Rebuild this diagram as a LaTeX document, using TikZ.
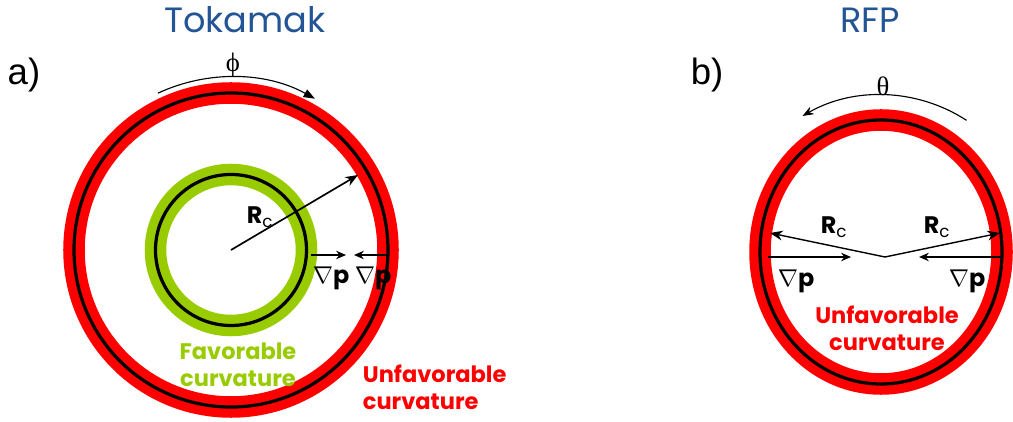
\documentclass[tikz,border=0pt]{standalone}
\usepackage{fontspec}
\setmainfont{Poppins}
\newfontfamily\arialfont{Liberation Sans}
\newfontfamily\timesfont{Liberation Serif}
\usetikzlibrary{arrows.meta}

\definecolor{titleblue}{RGB}{35,85,150}
\definecolor{favgreen}{RGB}{153,204,0}
\definecolor{unfavred}{RGB}{255,0,0}

\newcommand{\radc}{\textbf{R}\textsubscript{c}}
\newcommand{\gradp}{$\nabla$\textbf{p}}

\begin{document}
\begin{tikzpicture}[x=0.025cm,y=0.025cm,
  ring/.style={line width=15.3pt},
  wall/.style={black, line width=2.3pt},
  titletext/.style={titleblue, font=\fontsize{25}{30}\selectfont},
  panel/.style={font=\arialfont\fontsize{26}{30}\selectfont},
  angletext/.style={font=\timesfont\fontsize{19}{22}\selectfont},
  curvtext/.style={font=\fontsize{16}{19}\selectfont\bfseries, align=center},
  vectext/.style={font=\fontsize{17}{20}\selectfont, inner sep=0pt},
  anglearrow/.style={line width=0.8pt, -{Triangle[length=8pt,width=6pt]}},
  rcarrow/.style={line width=1.2pt, -{Stealth[length=9pt,width=7pt]}},
  gparrow/.style={line width=1.1pt, -{Stealth[length=7pt,width=6pt]}}]
\useasboundingbox (0,0) rectangle (1013,421);

% Titles
\node[titletext] (toktitle) at (245,401) {Tokamak};
\node[titletext] (rfptitle) at (870,401) {RFP};
\node[panel] (pa) at (24,346) {a)};
\node[panel] (pb) at (707,346) {b)};

% Tokamak cross section
\coordinate (tokc) at (231,171);
\draw[ring, unfavred] (tokc) circle[radius=157];
\draw[wall] (tokc) circle[radius=157];
\draw[ring, favgreen] (tokc) circle[radius=75.5];
\draw[wall] (tokc) circle[radius=75.5];

% toroidal angle
\draw[anglearrow] ([shift={(115:173)}]tokc) arc[start angle=115, end angle=61, radius=173];
\node[angletext] (phi) at (233,356) {ϕ};

% curvature radius and pressure gradient
\coordinate (tokrc) at (358,246);
\draw[rcarrow] (tokc) -- (tokrc);
\node[vectext] (tokrclab) at (260,204) {\radc};
\coordinate (gpa) at (311,166);
\coordinate (gpb) at (346,166);
\coordinate (gpc) at (388,166);
\coordinate (gpd) at (354,166);
\draw[gparrow] (gpa) -- (gpb);
\draw[gparrow] (gpc) -- (gpd);
\node[vectext] (gplaba) at (331,143) {\gradp};
\node[vectext] (gplabb) at (373,143) {\gradp};

\node[curvtext, favgreen] (favlab) at (238,56) {Favorable\\curvature};
\node[curvtext, unfavred, align=left, anchor=west] (unflab) at (358,34) {Unfavorable\\curvature};

% RFP cross section
\coordinate (rfpc) at (881,169);
\draw[ring, unfavred] (rfpc) ellipse[x radius=121, y radius=132];
\draw[wall] (rfpc) ellipse[x radius=121, y radius=132];

% poloidal angle
\draw[line width=0.8pt, -{Stealth[length=8pt,width=6pt]}] ([shift={(57:157)}]rfpc) arc[start angle=57, end angle=120, radius=157];
\node[angletext] (theta) at (883,335) {θ};

% curvature radii and pressure gradients
\coordinate (rfpv) at (885,164);
\coordinate (rfpl) at (770,188);
\coordinate (rfpr) at (1000,188);
\draw[rcarrow, line width=1pt] (rfpv) -- (rfpl);
\draw[rcarrow, line width=1pt] (rfpv) -- (rfpr);
\node[vectext] (rfprcl) at (834,194) {\radc};
\node[vectext] (rfprcr) at (937,194) {\radc};
\coordinate (rfpgl) at (768,164);
\coordinate (rfpgla) at (851,164);
\coordinate (rfpgr) at (1001,164);
\coordinate (rfpgra) at (919,164);
\draw[gparrow] (rfpgl) -- (rfpgla);
\draw[gparrow] (rfpgr) -- (rfpgra);
\node[vectext] (rfpgpl) at (796,140) {\gradp};
\node[vectext] (rfpgpr) at (967,140) {\gradp};

\node[curvtext, unfavred] (rfpunf) at (887,93) {Unfavorable\\curvature};

\end{tikzpicture}
\end{document}
